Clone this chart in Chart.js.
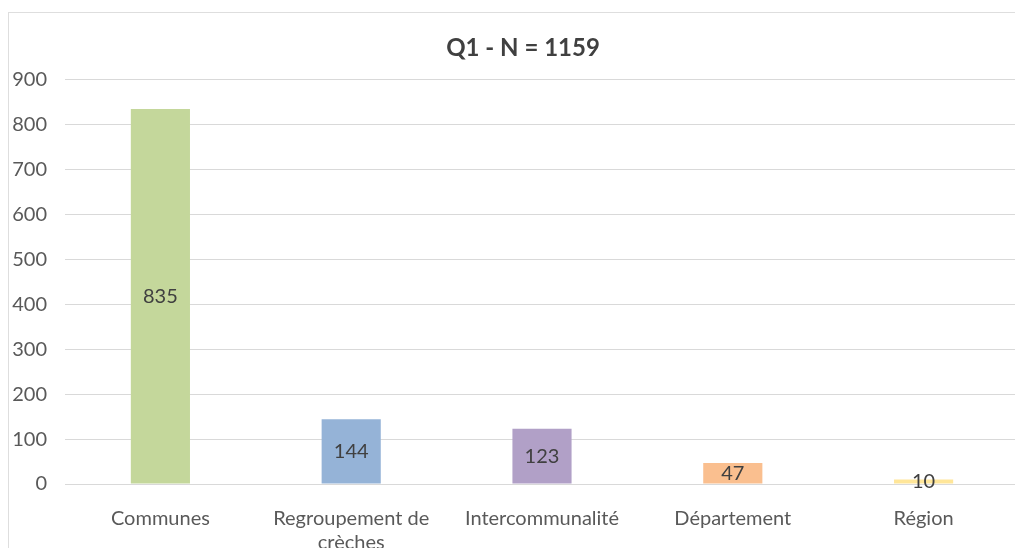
<!DOCTYPE html>
<html>
<head>
<meta charset="utf-8">
<script src="https://cdn.jsdelivr.net/npm/chart.js@4/dist/chart.umd.min.js"></script>
<style>
    body { margin: 0; overflow: hidden; background: #fff; }
    #boite {
        position: absolute; left: 8px; top: 12px;
        width: 1030px; height: 570px;
        border: 1px solid #dedede;
        box-sizing: border-box;
    }
</style>
</head>
<body>
<div id="boite"><canvas id="graficoQ1"></canvas></div>
<script>
const categories = ["Communes", ["Regroupement de", "crèches"], "Intercommunalité", "Département", "Région"];
const valeurs = [835, 144, 123, 47, 10];
const couleurs = ["#c4d79b", "#95b3d7", "#b1a0c7", "#fabf8f", "#ffe699"];
const ticksY = [0, 100, 200, 300, 400, 500, 600, 700, 800, 900];

const police = "Lato, 'Open Sans', sans-serif";

// étiquettes de données au centre des barres (comme dans Excel)
const etiquettesCentre = {
    id: "etiquettesCentre",
    afterDatasetsDraw(chart) {
        const ctx = chart.ctx;
        const meta = chart.getDatasetMeta(0);
        ctx.save();
        ctx.font = "20px " + police;
        ctx.fillStyle = "#404040";
        ctx.textAlign = "center";
        ctx.textBaseline = "middle";
        meta.data.forEach((barre, i) => {
            const y = (barre.y + barre.base) / 2;
            ctx.fillText(String(valeurs[i]), barre.x, y);
        });
        ctx.restore();
    }
};

new Chart(document.getElementById("graficoQ1"), {
    type: "bar",
    data: {
        labels: categories,
        datasets: [{
            data: valeurs,
            backgroundColor: couleurs,
            barPercentage: 0.31,
            categoryPercentage: 1
        }]
    },
    options: {
        responsive: true,
        maintainAspectRatio: false,
        animation: false,
        layout: { padding: 0 },
        plugins: {
            legend: { display: false },
            tooltip: { enabled: false },
            title: {
                display: true,
                text: "Q1 - N = 1159",
                color: "#404040",
                font: { family: police, size: 24, weight: "bold" },
                padding: { top: 21, bottom: 17 }
            }
        },
        scales: {
            x: {
                afterFit(scale) {
                    scale.height = 97;
                },
                grid: { display: false },
                border: { color: "#d9d9d9" },
                ticks: {
                    color: "#595959",
                    font: { family: police, size: 20 },
                    padding: 15,
                    maxRotation: 0
                }
            },
            y: {
                min: 0,
                max: 900,
                afterBuildTicks(scale) {
                    scale.ticks = ticksY.map(v => ({ value: v }));
                },
                afterFit(scale) {
                    scale.width = 56;
                },
                grid: { color: "#d9d9d9", drawTicks: false },
                border: { display: false },
                ticks: {
                    color: "#595959",
                    font: { family: police, size: 20 },
                    padding: 18
                }
            },
            // marge droite vide (axe invisible)
            marge: {
                type: "linear",
                position: "right",
                afterFit(scale) {
                    scale.width = 18;
                },
                grid: { display: false },
                border: { display: false },
                ticks: { display: false }
            }
        }
    },
    plugins: [etiquettesCentre]
});
</script>
</body>
</html>
